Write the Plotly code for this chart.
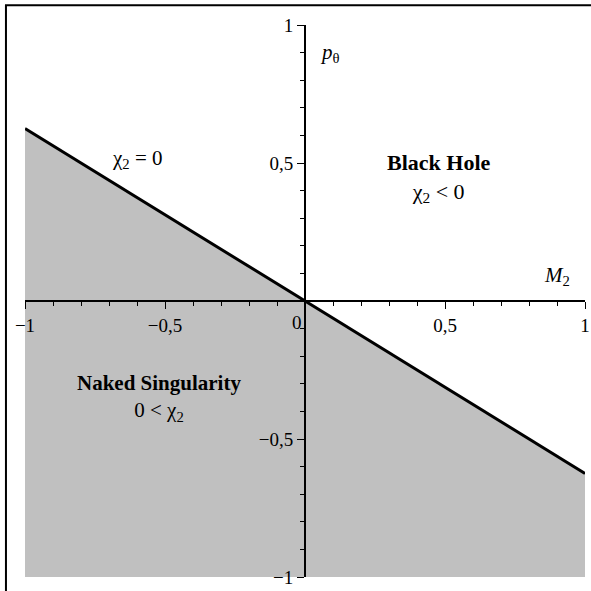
"""
Phase diagram: black hole vs naked singularity in the (M2, p_theta) plane.
"""
import plotly.graph_objects as go

# boundary chi_2 = 0
m2 = [-1, 1]
p_theta = [0.625, -0.625]
p_floor = [-1, -1]

tick_vals = [-1, -0.5, 0.5, 1]
tick_text = ["−1", "−0,5", "0,5", "1"]

SERIF = "Liberation Serif, Times New Roman, serif"

fig = go.Figure()
fig.add_trace(go.Scatter(x=m2, y=p_floor, mode="lines",
                         line=dict(width=0), hoverinfo="skip"))
fig.add_trace(go.Scatter(x=m2, y=p_theta, mode="lines", fill="tonexty",
                         fillcolor="#c0c0c0", line=dict(color="black", width=3)))

axis_common = dict(
    range=[-1, 1], showgrid=False, zeroline=False, showline=True,
    linecolor="black", linewidth=2, ticks="outside", ticklen=7, tickwidth=1,
    tickcolor="black", tickvals=tick_vals, ticktext=tick_text,
    tickfont=dict(family=SERIF, size=19, color="black"),
    anchor="free", position=0.5, automargin=False,
    minor=dict(ticks="outside", ticklen=4, tickwidth=1, tickcolor="black",
               dtick=0.1, showgrid=False),
)
fig.update_xaxes(**axis_common)
fig.update_yaxes(**axis_common)

def note(text, x, y, size=21, **kw):
    fig.add_annotation(x=x, y=y, text=text, showarrow=False,
                       font=dict(family=SERIF, size=size, color="black"), **kw)

note("0", 0, 0, size=19, xanchor="right", yanchor="top", xshift=-1, yshift=-9)
note("χ<sub>2</sub> = 0", -0.6, 0.515)
note("<b>Black Hole</b><br>χ<sub>2</sub> < 0", 0.48, 0.445, size=22)
note("<b>Naked Singularity</b><br>0 < χ<sub>2</sub>", -0.52, -0.35)
note("<i>M</i><sub>2</sub>", 0.9, 0.09)
note("<i>p</i><sub>θ</sub>", 0.09, 0.9)

# outer frame
fig.add_shape(type="rect", xref="paper", yref="paper",
              x0=-0.034, x1=1.2, y0=-0.2, y1=1.036,
              line=dict(color="black", width=2))

fig.update_layout(
    width=591, height=591, showlegend=False,
    plot_bgcolor="white", paper_bgcolor="white",
    margin=dict(l=25, r=6, t=25, b=14),
)
fig.write_html("out.html", config={"displayModeBar": False},
               post_script="document.body.style.margin = '0';")
